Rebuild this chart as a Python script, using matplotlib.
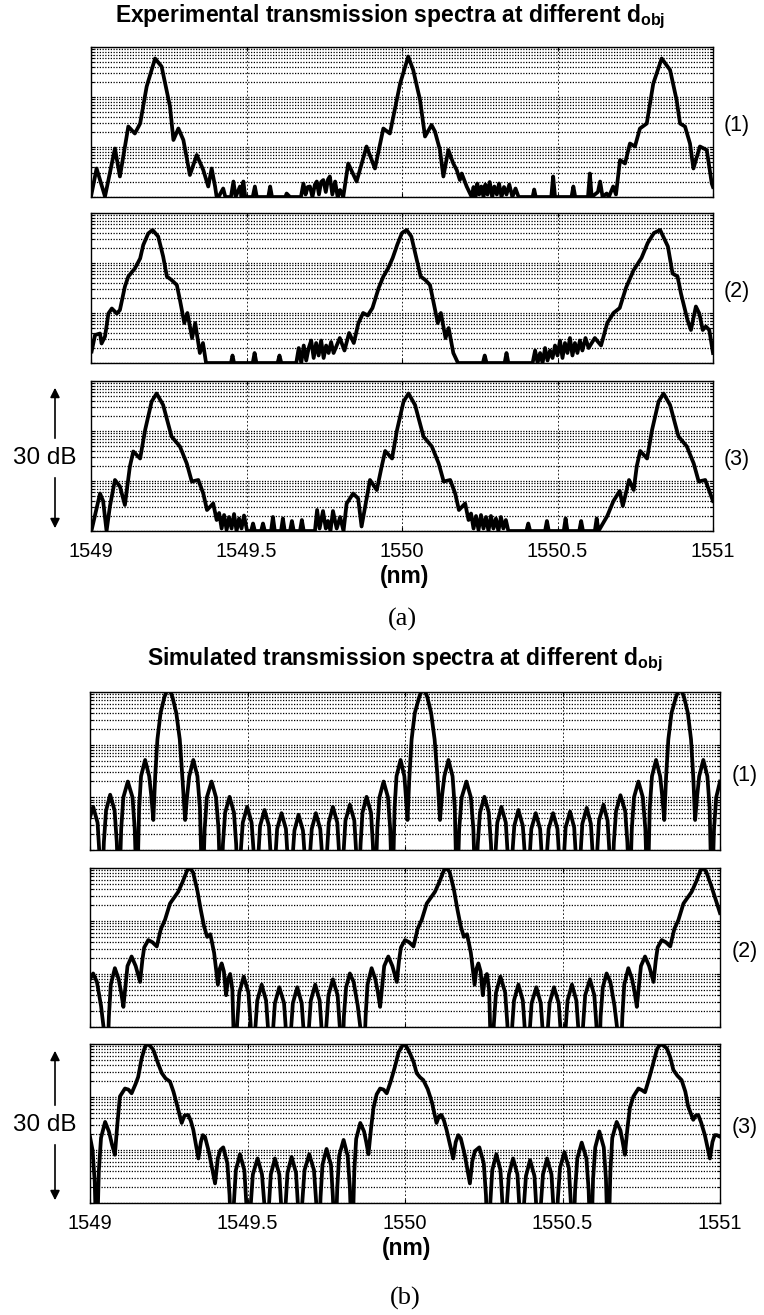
import matplotlib
matplotlib.use("Agg")
import matplotlib.pyplot as plt
from matplotlib.patches import FancyArrowPatch
from matplotlib.ticker import LogLocator, NullFormatter, FixedLocator

plt.rcParams['font.family'] = ['Liberation Sans', 'DejaVu Sans']

# ---------------- data (wavelength in nm, relative level in dB) ----------------
x_ticks = [1549, 1549.5, 1550, 1550.5, 1551]
x_tick_labels = ['1549', '1549.5', '1550', '1550.5', '1551']
panel_tags = ['(1)', '(2)', '(3)']

exp1_wl = [1549.000, 1549.018, 1549.045, 1549.077, 1549.093, 1549.120, 1549.141, 1549.158,
           1549.179, 1549.206, 1549.227, 1549.254, 1549.265, 1549.281, 1549.297, 1549.318,
           1549.340, 1549.361, 1549.377, 1549.388, 1549.399, 1549.404,
           1549.410, 1549.425, 1549.432, 1549.450, 1549.458, 1549.465, 1549.479, 1549.484,
           1549.490, 1549.496, 1549.520, 1549.527, 1549.533, 1549.570, 1549.576, 1549.582,
           1549.625, 1549.629, 1549.640, 1549.675, 1549.683, 1549.690, 1549.697, 1549.704,
           1549.712, 1549.720, 1549.726, 1549.733, 1549.740, 1549.747, 1549.755, 1549.762,
           1549.768, 1549.776, 1549.785, 1549.793, 1549.801, 1549.811,
           1549.827, 1549.854, 1549.886, 1549.913, 1549.940, 1549.961, 1549.994, 1550.020,
           1550.036, 1550.058, 1550.074, 1550.095, 1550.106, 1550.122, 1550.133, 1550.149,
           1550.165, 1550.176, 1550.186, 1550.192, 1550.208, 1550.224,
           1550.230, 1550.236, 1550.242, 1550.248, 1550.255, 1550.262, 1550.268, 1550.275,
           1550.282, 1550.290, 1550.297, 1550.305, 1550.312, 1550.320, 1550.328, 1550.336,
           1550.345, 1550.355, 1550.365, 1550.375, 1550.420, 1550.425, 1550.430, 1550.480,
           1550.486, 1550.492, 1550.545, 1550.551, 1550.557, 1550.598, 1550.604, 1550.610,
           1550.630, 1550.637, 1550.645, 1550.658, 1550.665, 1550.679, 1550.688,
           1550.701, 1550.717, 1550.733, 1550.749, 1550.765, 1550.787, 1550.808, 1550.835,
           1550.862, 1550.883, 1550.894, 1550.910, 1550.926, 1550.937, 1550.958, 1550.980,
           1550.996, 1551.000]
exp1_db = [-29.9, -24.3, -29.9, -20.3, -25.9, -15.9, -17.3, -15.3,
           -7.9, -2.3, -3.9, -11.9, -18.6, -16.3, -18.6, -25.6,
           -21.6, -24.6, -27.9, -24.3, -27.9, -30,
           -30, -28.3, -30, -30, -26.9, -30, -27.9, -30,
           -26.9, -30, -30, -27.9, -30, -30, -27.9, -30,
           -30, -29.3, -30, -30, -27.3, -29.5, -28, -27.9,
           -30, -27.5, -26.9, -29.5, -27, -26.6, -29, -26.5,
           -25.9, -29.5, -26.9, -30, -28.6, -30,
           -23.3, -26.9, -19.9, -24.3, -16.3, -17.3, -7.3, -1.9,
           -4.6, -10.6, -17.9, -15.6, -16.9, -20.6, -25.9, -20.6,
           -23.3, -24.6, -26.6, -25.3, -27.9, -30,
           -28, -30, -27.3, -29.5, -27.9, -30, -27.5, -29.5,
           -27, -30, -27.9, -29.5, -27.3, -30, -28, -29.5,
           -27.5, -30, -28.3, -30, -30, -28.5, -30, -30,
           -25.9, -30, -30, -27.9, -30, -30, -25.3, -30,
           -29, -26.9, -30, -29.3, -30, -27.9, -29.5,
           -22.6, -23.3, -19.3, -19.9, -16.3, -15.3, -7.3, -2.3,
           -4.6, -10.6, -15.3, -15.9, -19.3, -24.3, -19.9, -20.6,
           -27.3, -28]

exp2_wl = [1549.002, 1549.013, 1549.029, 1549.034, 1549.045, 1549.056, 1549.067, 1549.083,
           1549.093, 1549.109, 1549.120, 1549.141, 1549.158, 1549.168, 1549.184, 1549.198,
           1549.216, 1549.232, 1549.244, 1549.259, 1549.276, 1549.286, 1549.300, 1549.310,
           1549.325, 1549.335, 1549.350, 1549.360, 1549.370,
           1549.450, 1549.455, 1549.460, 1549.520, 1549.526, 1549.532, 1549.600, 1549.606,
           1549.612, 1549.660, 1549.668, 1549.676, 1549.684, 1549.692, 1549.700, 1549.708,
           1549.716, 1549.724, 1549.732, 1549.740, 1549.748, 1549.756, 1549.764, 1549.772,
           1549.780, 1549.800, 1549.815, 1549.830, 1549.845, 1549.860, 1549.875, 1549.890,
           1549.905, 1549.925, 1549.940, 1549.955, 1549.970, 1549.985, 1550.000, 1550.015,
           1550.030, 1550.045, 1550.060, 1550.075, 1550.090, 1550.100, 1550.115, 1550.125,
           1550.140, 1550.150, 1550.165, 1550.180,
           1550.260, 1550.266, 1550.272, 1550.330, 1550.336, 1550.342, 1550.420, 1550.428,
           1550.436, 1550.444, 1550.452, 1550.460, 1550.468, 1550.476, 1550.484, 1550.492,
           1550.500, 1550.508, 1550.516, 1550.524, 1550.532, 1550.540, 1550.548, 1550.556,
           1550.564, 1550.572, 1550.580, 1550.590, 1550.600, 1550.620, 1550.640, 1550.660,
           1550.680, 1550.700, 1550.720, 1550.745, 1550.770, 1550.790, 1550.810, 1550.830,
           1550.855, 1550.870, 1550.886, 1550.897, 1550.918, 1550.929, 1550.945, 1550.956,
           1550.967, 1550.977, 1550.988, 1551.000]
exp2_db = [-27.7, -24.4, -24.1, -26.1, -24.7, -20.1, -19.1, -20.1,
           -19.4, -14.7, -12.7, -11.1, -9.1, -6.4, -4.1, -3.4,
           -4.7, -8.7, -12.7, -13.4, -14.4, -17.4, -22, -20,
           -25, -22, -28, -26, -30,
           -30, -28.5, -30, -30, -28, -30, -30, -28.5,
           -30, -30, -27, -30, -26.5, -29.5, -27, -25.5,
           -29, -26, -28.5, -25.5, -29, -26.5, -28, -25.8,
           -28, -25, -27.5, -24, -26, -22, -20, -20.5,
           -19, -15, -12.7, -11.1, -9, -6.3, -4, -3.4,
           -4.7, -8.7, -12.7, -13.4, -14.4, -17.4, -22, -20,
           -25, -23, -28, -30,
           -30, -28.5, -30, -30, -28, -30, -30, -27.5,
           -30, -28, -30, -27, -29.5, -27.5, -29, -26.5,
           -28.5, -25.5, -29, -26, -28, -25, -28.5, -26,
           -28, -25.5, -27.5, -25, -27, -25, -26.5, -22,
           -20, -19, -15, -11.4, -9, -6, -4, -3.4,
           -6.7, -12.1, -12.7, -16.1, -21.4, -23.4, -18.7, -20.1,
           -23.4, -22.7, -23.4, -28]

exp3_wl = [1549.002, 1549.029, 1549.039, 1549.050, 1549.061, 1549.077, 1549.093, 1549.109,
           1549.125, 1549.136, 1549.158, 1549.174, 1549.195, 1549.211, 1549.232, 1549.259,
           1549.286, 1549.308, 1549.324, 1549.345, 1549.361, 1549.373, 1549.393, 1549.404,
           1549.412, 1549.420, 1549.428, 1549.436, 1549.444, 1549.452, 1549.460, 1549.468,
           1549.476, 1549.484, 1549.492, 1549.502, 1549.515, 1549.521, 1549.527, 1549.547,
           1549.553, 1549.559, 1549.579, 1549.585, 1549.591, 1549.611, 1549.617, 1549.623,
           1549.640, 1549.646, 1549.652, 1549.672, 1549.678, 1549.684, 1549.720, 1549.727,
           1549.735, 1549.746, 1549.755, 1549.762, 1549.770, 1549.778, 1549.790, 1549.801,
           1549.812, 1549.822, 1549.843, 1549.859, 1549.870, 1549.897, 1549.919,
           1549.935, 1549.946, 1549.968, 1549.984, 1550.005, 1550.021, 1550.042, 1550.069,
           1550.096, 1550.118, 1550.134, 1550.155, 1550.171, 1550.183, 1550.203, 1550.214,
           1550.222, 1550.230, 1550.238, 1550.246, 1550.254, 1550.262, 1550.270, 1550.278,
           1550.286, 1550.294, 1550.302, 1550.310, 1550.318, 1550.326, 1550.334, 1550.342,
           1550.350, 1550.400, 1550.406, 1550.412, 1550.460, 1550.466, 1550.472, 1550.520,
           1550.526, 1550.532, 1550.570, 1550.576, 1550.582, 1550.620, 1550.626, 1550.632,
           1550.660, 1550.680, 1550.700, 1550.710, 1550.730, 1550.745, 1550.755, 1550.766,
           1550.788, 1550.804, 1550.825, 1550.841, 1550.862, 1550.889, 1550.916, 1550.938,
           1550.954, 1550.975, 1550.991, 1551.000]
exp3_db = [-29.8, -22.5, -24, -30, -25, -19.8, -21.1, -24.8,
           -17.1, -14.1, -15.5, -9.8, -4.1, -2.5, -4.8, -11.1,
           -13.1, -16.5, -20.1, -19.8, -22.5, -25.8, -24.5, -27.8,
           -26.4, -29.5, -26.8, -29.8, -27.2, -29.5, -26.6, -30,
           -27.5, -29.5, -26.9, -30, -30, -28.5, -30, -30,
           -28.5, -30, -30, -27.2, -30, -30, -27.5, -30,
           -30, -28, -30, -30, -27.8, -30, -30, -25.8,
           -29.5, -26, -29.5, -28, -30, -26, -29.5, -27.2,
           -30, -24.5, -22.5, -23.5, -29.1, -19.8, -21.8,
           -17, -14, -15.5, -9.8, -4.1, -2.5, -4.8, -11.1,
           -13.1, -16.5, -20.1, -19.8, -22.5, -25.8, -24.5, -27.8,
           -26.5, -29.5, -27, -29.8, -26.8, -29.5, -27.2, -30,
           -27, -29.5, -27.5, -30, -27.2, -29.5, -27.8, -30,
           -30, -30, -28.5, -30, -30, -28, -30, -30,
           -27.5, -30, -30, -28, -30, -30, -27.5, -30,
           -27, -24, -22, -25, -19.8, -21.8, -17, -14,
           -15.5, -9.8, -4.1, -2.5, -4.8, -11.1, -13.1, -16.5,
           -20.1, -19.8, -22.5, -24]

sim1_wl = [1549.000, 1549.010, 1549.024, 1549.030, 1549.037,
           1549.044, 1549.051, 1549.064, 1549.078, 1549.085, 1549.092,
           1549.099, 1549.106, 1549.120, 1549.135, 1549.142, 1549.149,
           1549.156, 1549.162, 1549.175, 1549.188, 1549.195, 1549.201,
           1549.207, 1549.214, 1549.224, 1549.236, 1549.249, 1549.262, 1549.274, 1549.285,
           1549.293, 1549.302,
           1549.308, 1549.315, 1549.328, 1549.341, 1549.349, 1549.357,
           1549.364, 1549.371, 1549.386, 1549.400, 1549.408, 1549.415,
           1549.422, 1549.429, 1549.443, 1549.457, 1549.464, 1549.471,
           1549.478, 1549.485, 1549.499, 1549.513, 1549.520, 1549.527,
           1549.534, 1549.540, 1549.554, 1549.568, 1549.574, 1549.581,
           1549.588, 1549.594, 1549.608, 1549.622, 1549.628, 1549.635,
           1549.642, 1549.649, 1549.662, 1549.676, 1549.683, 1549.690,
           1549.697, 1549.704, 1549.717, 1549.731, 1549.738, 1549.745,
           1549.752, 1549.758, 1549.771, 1549.785, 1549.791, 1549.798,
           1549.805, 1549.811, 1549.825, 1549.839, 1549.845, 1549.852,
           1549.859, 1549.865, 1549.878, 1549.892, 1549.898, 1549.905,
           1549.912, 1549.919, 1549.932, 1549.946, 1549.953, 1549.960,
           1549.967, 1549.973, 1549.986, 1549.998, 1550.003, 1550.008,
           1550.014, 1550.021, 1550.031, 1550.045, 1550.058, 1550.071, 1550.083, 1550.094,
           1550.103, 1550.111,
           1550.117, 1550.125, 1550.138, 1550.151, 1550.158, 1550.165,
           1550.172, 1550.180, 1550.195, 1550.209, 1550.217, 1550.224,
           1550.231, 1550.238, 1550.252, 1550.266, 1550.273, 1550.280,
           1550.287, 1550.293, 1550.306, 1550.320, 1550.326, 1550.333,
           1550.340, 1550.347, 1550.360, 1550.374, 1550.381, 1550.388,
           1550.395, 1550.401, 1550.415, 1550.429, 1550.435, 1550.442,
           1550.449, 1550.456, 1550.470, 1550.484, 1550.490, 1550.497,
           1550.504, 1550.510, 1550.524, 1550.537, 1550.543, 1550.550,
           1550.557, 1550.563, 1550.577, 1550.590, 1550.596, 1550.603,
           1550.610, 1550.616, 1550.630, 1550.643, 1550.649, 1550.656,
           1550.663, 1550.670, 1550.684, 1550.699, 1550.706, 1550.713,
           1550.720, 1550.727, 1550.741, 1550.755, 1550.763, 1550.770,
           1550.777, 1550.784, 1550.797, 1550.810, 1550.817, 1550.823,
           1550.829, 1550.836, 1550.846, 1550.860, 1550.873, 1550.886, 1550.898, 1550.908,
           1550.915, 1550.921,
           1550.927, 1550.934, 1550.947, 1550.960, 1550.967, 1550.974,
           1550.981, 1550.988, 1551.000]
sim1_db = [-23.8, -21.8, -24.8, -30.8, -40,
           -28.5, -22.5, -19.5, -22.5, -28.5, -40,
           -26, -20, -17, -20, -26, -40,
           -22, -16, -12.9, -16, -20, -24.3,
           -16, -9, -4, -1, 1, -1, -4, -9,
           -16, -24.3,
           -20, -16, -12.9, -16, -22, -40,
           -26, -20, -17, -20, -26, -40,
           -28.9, -22.9, -19.9, -22.9, -28.9, -40,
           -30.8, -24.8, -21.8, -24.8, -30.8, -40,
           -31.4, -25.4, -22.4, -25.4, -31.4, -40,
           -32, -26, -23, -26, -32, -40,
           -32.3, -26.3, -23.3, -26.3, -32.3, -40,
           -32, -26, -23, -26, -32, -40,
           -30.8, -24.8, -21.8, -24.8, -30.8, -40,
           -30.4, -24.4, -21.4, -24.4, -30.4, -40,
           -28.9, -22.9, -19.9, -22.9, -28.9, -40,
           -26, -20, -17, -20, -26, -40,
           -22, -16, -12.9, -16, -20, -24.3,
           -16, -9, -4, -1, 1, -1, -4, -9,
           -16, -24.3,
           -20, -16, -12.9, -16, -22, -40,
           -26, -20, -17, -20, -26, -40,
           -28.9, -22.9, -19.9, -22.9, -28.9, -40,
           -30.8, -24.8, -21.8, -24.8, -30.8, -40,
           -31.4, -25.4, -22.4, -25.4, -31.4, -40,
           -32, -26, -23, -26, -32, -40,
           -32, -26, -23, -26, -32, -40,
           -31.7, -25.7, -22.7, -25.7, -31.7, -40,
           -31, -25, -22, -25, -31, -40,
           -30.4, -24.4, -21.4, -24.4, -30.4, -40,
           -28.6, -22.6, -19.6, -22.6, -28.6, -40,
           -26, -20, -17, -20, -26, -40,
           -22, -16, -12.9, -16, -20, -24.3,
           -16, -9, -4, -1, 1, -1, -4, -9,
           -16, -24.3,
           -20, -16, -12.9, -16, -22, -40,
           -26, -20, -17]

sim2_wl = [1549.000, 1549.010, 1549.022, 1549.035, 1549.045, 1549.053, 1549.060, 1549.066,
           1549.079, 1549.091, 1549.099, 1549.106, 1549.113, 1549.119, 1549.132, 1549.145,
           1549.152, 1549.159, 1549.166, 1549.172, 1549.185, 1549.198, 1549.212, 1549.225,
           1549.238, 1549.254, 1549.268, 1549.280, 1549.295, 1549.308, 1549.317,
           1549.327, 1549.340, 1549.352, 1549.362, 1549.372, 1549.382, 1549.394, 1549.406,
           1549.412, 1549.418, 1549.425, 1549.432, 1549.438, 1549.445, 1549.452, 1549.460,
           1549.467, 1549.474, 1549.488, 1549.503, 1549.510, 1549.517,
           1549.524, 1549.531, 1549.545, 1549.559, 1549.566, 1549.573,
           1549.580, 1549.587, 1549.601, 1549.616, 1549.623, 1549.630,
           1549.637, 1549.644, 1549.658, 1549.672, 1549.679, 1549.687,
           1549.694, 1549.701, 1549.715, 1549.729, 1549.736, 1549.743,
           1549.750, 1549.757, 1549.771, 1549.786, 1549.793, 1549.800,
           1549.806, 1549.813, 1549.825, 1549.837, 1549.850, 1549.860, 1549.868,
           1549.875, 1549.881, 1549.894, 1549.906, 1549.914, 1549.921, 1549.928, 1549.934,
           1549.947, 1549.960, 1549.967, 1549.974, 1549.981, 1549.987, 1550.000, 1550.013,
           1550.027, 1550.040, 1550.053, 1550.069, 1550.083, 1550.095, 1550.110, 1550.123,
           1550.132,
           1550.142, 1550.155, 1550.167, 1550.177, 1550.187, 1550.197, 1550.209, 1550.221,
           1550.227, 1550.233, 1550.240, 1550.247, 1550.253, 1550.260, 1550.267, 1550.275,
           1550.282, 1550.289, 1550.303, 1550.318, 1550.325, 1550.332,
           1550.339, 1550.346, 1550.360, 1550.374, 1550.381, 1550.388,
           1550.395, 1550.402, 1550.417, 1550.431, 1550.438, 1550.445,
           1550.452, 1550.459, 1550.473, 1550.488, 1550.495, 1550.502,
           1550.509, 1550.516, 1550.530, 1550.544, 1550.551, 1550.558,
           1550.565, 1550.572, 1550.587, 1550.601, 1550.608, 1550.615,
           1550.621, 1550.628, 1550.640, 1550.652, 1550.665, 1550.675, 1550.683,
           1550.690, 1550.696, 1550.709, 1550.721, 1550.729, 1550.736, 1550.743, 1550.749,
           1550.762, 1550.775, 1550.782, 1550.789, 1550.796, 1550.802, 1550.815, 1550.828,
           1550.842, 1550.855, 1550.868, 1550.884, 1550.898, 1550.910, 1550.925, 1550.938,
           1550.947, 1550.957, 1550.973, 1551.000]
sim2_db = [-21, -19.9, -21.5, -26, -31, -40, -28, -22,
           -18.9, -21, -23.5, -26.2, -22, -18.5, -16.7, -18.5,
           -20, -21.5, -17.5, -15, -13.6, -14, -14.8, -11.5,
           -9.8, -6.7, -5.5, -4.5, -2.5, -0.5, 0,
           -0.8, -4, -8, -11, -13, -12.5, -16, -22,
           -19, -18, -19.5, -24, -21, -20, -23, -40,
           -29.5, -23.5, -20.5, -23.5, -29.5, -40,
           -31, -25, -22, -25, -31, -40,
           -31.5, -25.5, -22.5, -25.5, -31.5, -40,
           -31.5, -25.5, -22.5, -25.5, -31.5, -40,
           -31, -25, -22, -25, -31, -40,
           -30, -24, -21, -24, -30, -40,
           -28, -22.5, -19.9, -21.5, -26, -31, -40,
           -28, -22, -18.9, -21, -23.5, -26.2, -22, -18.5,
           -16.7, -18.5, -20, -21.5, -17.5, -15, -13.6, -14,
           -14.8, -11.5, -9.8, -6.7, -5.5, -4.5, -2.5, -0.5,
           0,
           -0.8, -4, -8, -11, -13, -12.5, -16, -22,
           -19, -18, -19.5, -24, -21, -20, -23, -40,
           -29.5, -23.5, -20.5, -23.5, -29.5, -40,
           -31, -25, -22, -25, -31, -40,
           -31.5, -25.5, -22.5, -25.5, -31.5, -40,
           -31.5, -25.5, -22.5, -25.5, -31.5, -40,
           -31, -25, -22, -25, -31, -40,
           -30, -24, -21, -24, -30, -40,
           -28, -22.5, -19.9, -21.5, -26, -31, -40,
           -28, -22, -18.9, -21, -23.5, -26.2, -22, -18.5,
           -16.7, -18.5, -20, -21.5, -17.5, -15, -13.6, -14,
           -14.8, -11.5, -9.8, -6.7, -5.5, -4.5, -2.5, -0.5,
           0, -0.8, -3.5, -8.5]

sim3_wl = [1549.000, 1549.008, 1549.015, 1549.021, 1549.028, 1549.035, 1549.048, 1549.060,
           1549.070, 1549.079, 1549.087, 1549.095, 1549.111, 1549.122, 1549.132, 1549.145,
           1549.153, 1549.163, 1549.172, 1549.180, 1549.190, 1549.201, 1549.215, 1549.228,
           1549.240, 1549.254, 1549.265, 1549.275, 1549.291, 1549.300, 1549.312, 1549.320,
           1549.328, 1549.344, 1549.352, 1549.358, 1549.365, 1549.378, 1549.397, 1549.406,
           1549.414, 1549.423, 1549.436, 1549.443, 1549.450,
           1549.457, 1549.463, 1549.476, 1549.490, 1549.496, 1549.503,
           1549.510, 1549.517, 1549.532, 1549.546, 1549.554, 1549.561,
           1549.568, 1549.574, 1549.587, 1549.601, 1549.607, 1549.614,
           1549.621, 1549.627, 1549.640, 1549.654, 1549.660, 1549.667,
           1549.674, 1549.681, 1549.696, 1549.711, 1549.718, 1549.725,
           1549.732, 1549.738, 1549.751, 1549.765, 1549.771, 1549.778,
           1549.785, 1549.791, 1549.805, 1549.818, 1549.825, 1549.832,
           1549.839, 1549.845, 1549.858, 1549.870, 1549.877, 1549.884,
           1549.892, 1549.900, 1549.910, 1549.921, 1549.932, 1549.942, 1549.955, 1549.968,
           1549.980, 1549.995, 1550.005, 1550.016, 1550.028, 1550.037, 1550.048, 1550.058,
           1550.072, 1550.085, 1550.100, 1550.108, 1550.116, 1550.124, 1550.132, 1550.153,
           1550.161, 1550.169, 1550.177, 1550.190, 1550.206, 1550.214, 1550.222, 1550.236,
           1550.250, 1550.257, 1550.264,
           1550.271, 1550.277, 1550.290, 1550.303, 1550.309, 1550.316,
           1550.323, 1550.330, 1550.343, 1550.357, 1550.363, 1550.370,
           1550.377, 1550.384, 1550.397, 1550.411, 1550.417, 1550.424,
           1550.431, 1550.438, 1550.451, 1550.465, 1550.471, 1550.478,
           1550.485, 1550.492, 1550.506, 1550.520, 1550.526, 1550.533,
           1550.540, 1550.547, 1550.561, 1550.576, 1550.583, 1550.590,
           1550.597, 1550.604, 1550.617, 1550.631, 1550.638, 1550.645,
           1550.652, 1550.658, 1550.672, 1550.684, 1550.691, 1550.698,
           1550.706, 1550.714, 1550.725, 1550.741, 1550.752, 1550.762, 1550.775, 1550.788,
           1550.800, 1550.810, 1550.820, 1550.831, 1550.842, 1550.852, 1550.865, 1550.878,
           1550.890, 1550.899, 1550.915, 1550.923, 1550.931, 1550.940, 1550.952, 1550.968,
           1550.976, 1550.983, 1550.990, 1551.000]
sim3_db = [-17.5, -20, -26, -40, -24, -17.7, -14.7, -16.5,
           -19, -20.9, -15, -9.9, -8.4, -8.6, -9.3, -7.5,
           -6.2, -3, -1, 0, -0.3, -1.1, -3.5, -5.5,
           -6.5, -7.1, -9, -11.2, -14.9, -13.5, -13.4, -14.5,
           -16.2, -21.6, -18.5, -17.2, -17.5, -20.5, -26.3, -21.5,
           -20, -19.5, -22.5, -28.5, -40,
           -29.8, -23.8, -20.8, -23.8, -29.8, -40,
           -30.6, -24.6, -21.6, -24.6, -30.6, -40,
           -30.6, -24.6, -21.6, -24.6, -30.6, -40,
           -30.3, -24.3, -21.3, -24.3, -30.3, -40,
           -29.8, -23.8, -20.8, -23.8, -29.8, -40,
           -28.8, -22.8, -19.8, -22.8, -28.8, -40,
           -27.1, -21.1, -18.1, -21.1, -27.1, -40,
           -24, -17.9, -14.9, -16.5, -18.5, -20.8,
           -16, -12, -9.5, -8.4, -8.6, -9.3, -7, -4.3,
           -1.5, 0, -0.5, -1.8, -3.5, -5.5, -6.3, -6.8,
           -8.5, -10.9, -14.9, -13.6, -13.4, -14.5, -16.2, -21.6,
           -18.5, -17.2, -17.8, -21, -26.3, -22, -20.2, -19.5,
           -22.5, -28.5, -40,
           -29.8, -23.8, -20.8, -23.8, -29.8, -40,
           -30.6, -24.6, -21.6, -24.6, -30.6, -40,
           -30.9, -24.9, -21.9, -24.9, -30.9, -40,
           -30.6, -24.6, -21.6, -24.6, -30.6, -40,
           -29.4, -23.4, -20.4, -23.4, -29.4, -40,
           -27.6, -21.6, -18.6, -21.6, -27.6, -40,
           -25.5, -19.5, -16.5, -19.5, -25.5, -40,
           -24, -17.7, -14.7, -16.3, -18.5, -20.9,
           -16, -12, -9.9, -8.4, -8.7, -9.1, -6.5, -3.6,
           -1, 0, -0.3, -0.8, -2.5, -4.9, -6, -6.8,
           -9, -11.8, -14.3, -13.5, -13.4, -14.8, -17.2, -21.6,
           -18.5, -17.2, -17.2, -17.5]

# ---------------- layout helpers (pixel boxes of the 764x1315 canvas) ----------------
W, H = 764, 1315
fig = plt.figure(figsize=(W / 100, H / 100), dpi=100)


def px_axes(x0, y0, x1, y1):
    return fig.add_axes([x0 / W, 1 - y1 / H, (x1 - x0) / W, (y1 - y0) / H])


def ftext(x, y, s, **kw):
    fig.text(x / W, 1 - y / H, s, ha='center', va='center', **kw)


def spectrum_panel(ax, wl, db, show_labels):
    lin = [10 ** (v / 10) for v in db]
    ax.plot(wl, lin, color='black', lw=2.7, solid_joinstyle='round')
    ax.set_yscale('log')
    ax.set_ylim(1e-3, 1)
    ax.set_xlim(1549, 1551)
    ax.xaxis.set_major_locator(FixedLocator(x_ticks))
    ax.yaxis.set_major_locator(LogLocator(base=10, numticks=10))
    ax.yaxis.set_minor_locator(LogLocator(base=10, subs=range(2, 10), numticks=20))
    ax.yaxis.set_major_formatter(NullFormatter())
    ax.yaxis.set_minor_formatter(NullFormatter())
    ax.grid(which='major', axis='x', color='black', lw=0.6, ls=(0, (2, 2.5)))
    ax.grid(which='both', axis='y', color='black', lw=0.9, ls=(0, (1, 1.2)))
    ax.tick_params(which='both', direction='in', top=True, right=True, length=3, width=0.8)
    ax.tick_params(which='minor', length=2)
    if show_labels:
        ax.set_xticklabels(x_tick_labels, fontsize=14.5)
        ax.tick_params(axis='x', pad=8)
    else:
        ax.set_xticklabels([])
    for sp in ax.spines.values():
        sp.set_linewidth(1.0)


def db_arrow(x, y_top, y_txt, y_bot):
    ftext(x - 10, y_txt, '30 dB', fontsize=17.5)
    for y_end, y_start in ((y_top, y_txt - 17), (y_bot, y_txt + 17)):
        fig.add_artist(FancyArrowPatch(
            (x / W, 1 - y_start / H), (x / W, 1 - y_end / H),
            transform=fig.transFigure, arrowstyle='-|>', mutation_scale=14,
            lw=1.2, color='black'))


# ---------------- (a) experimental ----------------
exp_rows = [(47, 197), (213, 363), (381, 531)]
exp_data = [(exp1_wl, exp1_db), (exp2_wl, exp2_db), (exp3_wl, exp3_db)]
for i, ((y0, y1), (wl, db)) in enumerate(zip(exp_rows, exp_data)):
    ax = px_axes(91, y0, 713, y1)
    spectrum_panel(ax, wl, db, i == 2)
    ftext(737, (y0 + y1) / 2 + 4, panel_tags[i], fontsize=15.5)

ftext(390, 17, r'Experimental transmission spectra at different d$_\mathregular{obj}$',
      fontsize=16.5, fontweight='bold')
ftext(405, 577, '(nm)', fontsize=16.5, fontweight='bold')
ftext(402, 619, '(a)', fontsize=19, family='Liberation Serif')
db_arrow(55, 385, 458, 531)

# ---------------- (b) simulated ----------------
sim_rows = [(692, 850), (868, 1027), (1044, 1203)]
sim_data = [(sim1_wl, sim1_db), (sim2_wl, sim2_db), (sim3_wl, sim3_db)]
for i, ((y0, y1), (wl, db)) in enumerate(zip(sim_rows, sim_data)):
    ax = px_axes(90, y0, 720, y1)
    spectrum_panel(ax, wl, db, i == 2)
    ftext(745, (y0 + y1) / 2 + 4, panel_tags[i], fontsize=15.5)

ftext(405, 660, r'Simulated transmission spectra at different d$_\mathregular{obj}$',
      fontsize=16.5, fontweight='bold')
ftext(407, 1248, '(nm)', fontsize=16.5, fontweight='bold')
ftext(405, 1298, '(b)', fontsize=19, family='Liberation Serif')
db_arrow(55, 1048, 1125, 1203)

fig.savefig('out.png', dpi=100)
